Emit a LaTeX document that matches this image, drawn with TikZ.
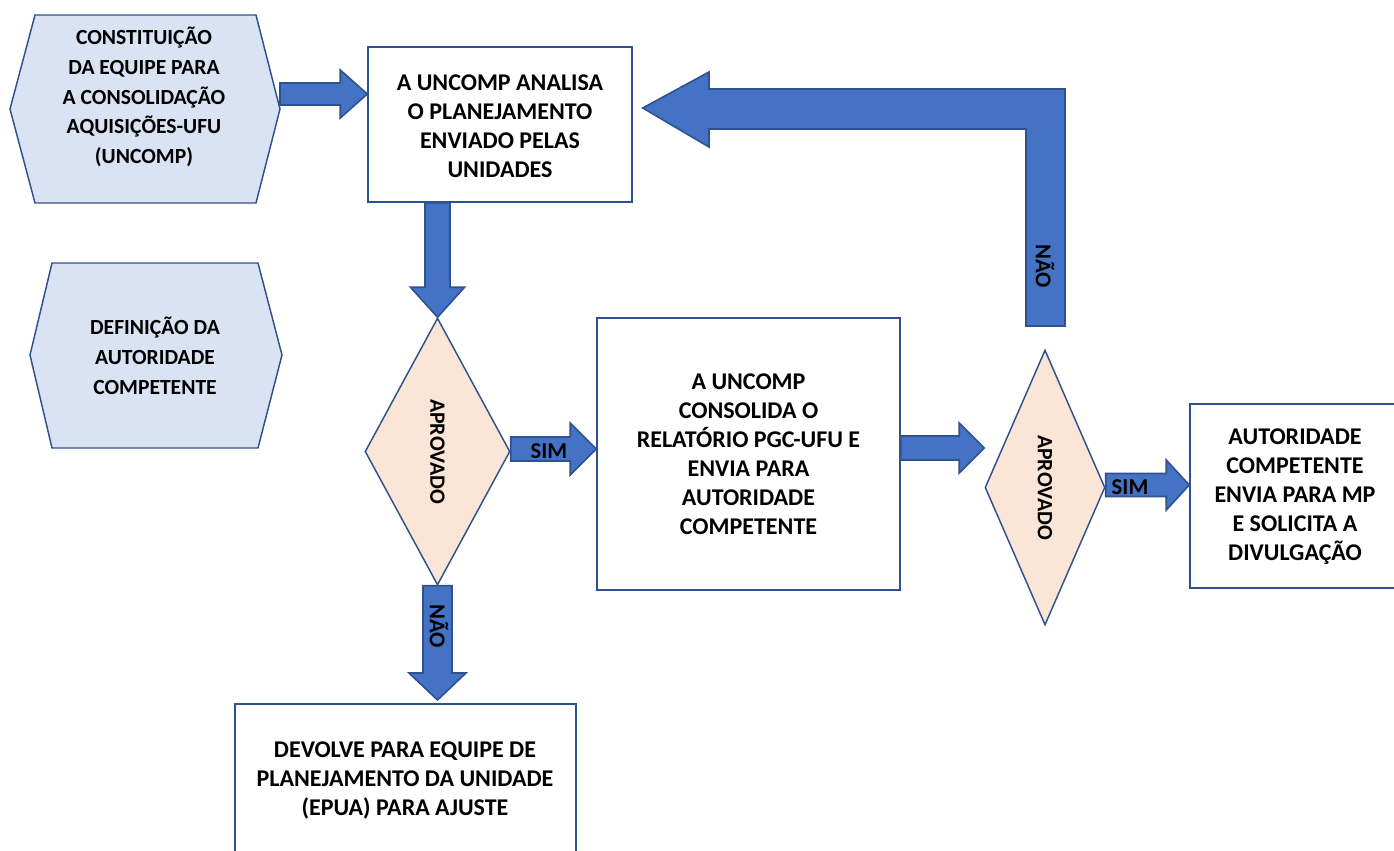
\documentclass[tikz,border=0pt]{standalone}
\usepackage{fontspec}
\setmainfont{Carlito}
\usetikzlibrary{shapes.geometric,calc}
\definecolor{arrfill}{HTML}{4472C4}
\definecolor{edge}{HTML}{2F528F}
\definecolor{hexfill}{HTML}{DAE3F3}
\definecolor{diafill}{HTML}{FBE5D6}
\newcommand\px{0.75pt}
% horizontal block arrow: start x from #1, tip #2, shaft half #3, head half #4, head length #5 (px)
\newcommand\harrow[5]{%
  \draw[blockarrow] let \p1=(#1), \p2=(#2) in
   (\x1,\y2+#3*\px) -- (\x2-#5*\px,\y2+#3*\px) -- (\x2-#5*\px,\y2+#4*\px) -- (\x2,\y2)
   -- (\x2-#5*\px,\y2-#4*\px) -- (\x2-#5*\px,\y2-#3*\px) -- (\x1,\y2-#3*\px) -- cycle;}
% vertical (downward) block arrow: start y from #1, tip #2
\newcommand\varrow[5]{%
  \draw[blockarrow] let \p1=(#1), \p2=(#2) in
   (\x2-#3*\px,\y1) -- (\x2-#3*\px,\y2+#5*\px) -- (\x2-#4*\px,\y2+#5*\px) -- (\x2,\y2)
   -- (\x2+#4*\px,\y2+#5*\px) -- (\x2+#3*\px,\y2+#5*\px) -- (\x2+#3*\px,\y1) -- cycle;}
\tikzset{
  blockarrow/.style={fill=arrfill,draw=edge,line width=1.2pt,line join=miter},
  box/.style={draw=edge,line width=1.1pt,fill=white,rectangle,inner sep=0pt},
  hexshape/.style={draw=edge,line width=1.1pt,fill=hexfill,line join=miter},
  dia/.style={draw=edge,line width=1.1pt,fill=diafill,diamond,inner sep=0pt,shape aspect=0.55},
  txt/.style={font=\bfseries\fontsize{18}{21.8}\selectfont,align=center,inner sep=0pt},
  hextxt/.style={font=\bfseries\fontsize{16.2}{22.3}\selectfont,align=center,inner sep=0pt},
  lbl/.style={font=\bfseries\fontsize{17}{18}\selectfont,inner sep=0pt},
  aplbl/.style={font=\bfseries\fontsize{16.4}{18}\selectfont,inner sep=0pt,rotate=-90},
}
\begin{document}
\begin{tikzpicture}[x=0.75pt,y=-0.75pt]
\useasboundingbox (0,0) rectangle (1394,850);
\clip (0,0) rectangle (1394,850);
% hexagons
\draw[hexshape] (10,109) -- (35,15) -- (256,15) -- (280,109) -- (256,203) -- (35,203) -- cycle;
\coordinate (hex1e) at (280,109);
\node[hextxt] (hex1) at (144,97) {CONSTITUIÇÃO\\DA EQUIPE PARA\\A CONSOLIDAÇÃO\\AQUISIÇÕES-UFU\\(UNCOMP)};
\draw[hexshape] (30,355) -- (52,263) -- (258,263) -- (282,355) -- (258,448) -- (52,448) -- cycle;
\node[hextxt] (hex2) at (155,356) {DEFINIÇÃO DA\\AUTORIDADE\\COMPETENTE};
% boxes
\node[box,minimum width=264*\px,minimum height=155*\px] (b1) at (500,124.5) {};
\node[txt] at (500,126) {A UNCOMP ANALISA\\O PLANEJAMENTO\\ENVIADO PELAS\\UNIDADES};
\node[box,minimum width=303*\px,minimum height=272*\px] (b2) at (748.5,454) {};
\node[txt] at (b2) {A UNCOMP\\CONSOLIDA O\\RELATÓRIO PGC-UFU E\\ENVIA PARA\\AUTORIDADE\\COMPETENTE};
\node[box,minimum width=210*\px,minimum height=184*\px] (b3) at (1295,496) {};
\node[txt] at (1295,497) {AUTORIDADE\\COMPETENTE\\ENVIA PARA MP\\E SOLICITA A\\DIVULGAÇÃO};
\draw[box] (235,704) rectangle (576,880);
\coordinate (b4n) at (405,704);
\node[txt] (b4) at (405,780) {DEVOLVE PARA EQUIPE DE\\PLANEJAMENTO DA UNIDADE\\(EPUA) PARA AJUSTE};
% diamonds
\node[dia,minimum width=145*\px,minimum height=267*\px] (d1) at (437.5,451.5) {};
\node[aplbl] at (d1) {APROVADO};
\node[dia,minimum width=120*\px,minimum height=275*\px] (d2) at (1045,487.5) {};
\node[aplbl] at (d2) {APROVADO};
% arrows
\harrow{hex1e}{b1.west |- {(0,94)}}{11}{24}{27}
\varrow{b1.south}{d1.north}{12.5}{27}{30}
\harrow{d1.east}{b2.west |- {(0,449)}}{12}{26}{26}
\node[lbl] at (549,451) {SIM};
\harrow{b2.east}{d2.west |- {(0,448)}}{12}{25}{25}
\harrow{d2.east}{b3.west |- {(0,485)}}{11.5}{25}{23}
\node[lbl] at (1130,487) {SIM};
\varrow{d1.south}{$(d1.south |- b4n)+(0,-4)$}{14.5}{28.5}{27}
\node[lbl,rotate=-90] at (439,626) {NÃO};
% loop back arrow
\coordinate (ltip) at ($(b1.east)+(10,-16.5)$);
\draw[blockarrow] (ltip) -- (709,72) -- (709,89) -- (1065,89) -- (1065,326) -- (1026,326) -- (1026,129) -- (709,129) -- (709,147) -- cycle;
\node[lbl,rotate=-90] at (1045,266) {NÃO};
\end{tikzpicture}
\end{document}
